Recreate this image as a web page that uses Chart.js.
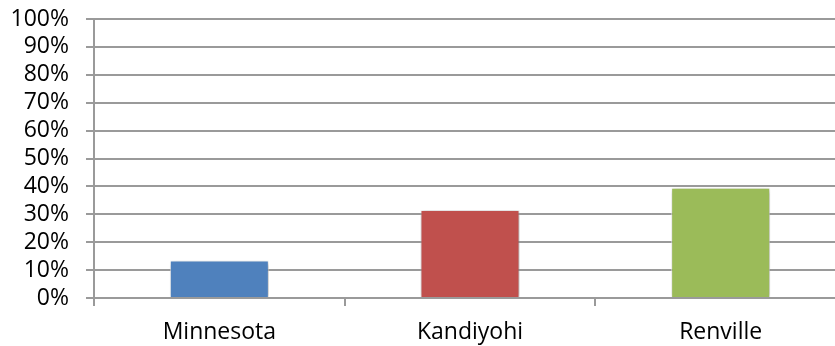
<!DOCTYPE html>
<html>
<head>
<meta charset="utf-8">
<script src="https://cdn.jsdelivr.net/npm/chart.js@4"></script>
<style>
  html, body { margin: 0; padding: 0; background: #fff; overflow: hidden; }
  #wrap { width: 835px; height: 346px; overflow: hidden; }
  #grafico { display: block; }
</style>
</head>
<body>
<div id="wrap"><canvas id="grafico" width="846" height="346"></canvas></div>
<script>
const condados = ['Minnesota', 'Kandiyohi', 'Renville'];
const porcentajes = [13.4, 31.5, 39.5];
const colores = ['#4F81BD', '#C0504D', '#9BBB59'];
const ticksY = [0, 10, 20, 30, 40, 50, 60, 70, 80, 90, 100];

const colorRejilla = '#9a9a9a';
const fuente = { family: '"Open Sans", sans-serif', size: 23 };

// sombra suave alrededor de las barras
const sombraBarras = {
    id: 'sombraBarras',
    beforeDatasetsDraw(chart) {
        const ctx = chart.ctx;
        ctx.save();
        ctx.shadowColor = 'rgba(0, 0, 0, 0.35)';
        ctx.shadowBlur = 5;
        ctx.shadowOffsetX = 1;
        ctx.shadowOffsetY = 1;
    },
    afterDatasetsDraw(chart) {
        chart.ctx.restore();
    }
};

const ctx = document.getElementById('grafico').getContext('2d');
new Chart(ctx, {
    type: 'bar',
    data: {
        labels: condados,
        datasets: [{
            data: porcentajes,
            backgroundColor: colores,
            borderColor: 'rgba(255, 255, 255, 0.7)',
            borderWidth: 1,
            barPercentage: 0.395,
            categoryPercentage: 1
        }]
    },
    plugins: [sombraBarras],
    options: {
        responsive: false,
        animation: false,
        layout: { padding: { top: 19, left: 0, right: 0, bottom: 0 } },
        plugins: {
            legend: { display: false },
            tooltip: { enabled: false }
        },
        scales: {
            x: {
                grid: {
                    drawOnChartArea: false,
                    drawTicks: true,
                    tickLength: 8,
                    color: colorRejilla,
                    lineWidth: 2
                },
                border: { color: colorRejilla, width: 2 },
                ticks: { color: '#000', font: fuente, padding: 13, maxRotation: 0 },
                afterFit(escala) { escala.height = 48; }
            },
            y: {
                min: 0,
                max: 100,
                afterBuildTicks(escala) {
                    escala.ticks = ticksY.map(v => ({ value: v }));
                },
                grid: {
                    color: colorRejilla,
                    lineWidth: 2,
                    tickLength: 8
                },
                border: { color: colorRejilla, width: 2 },
                ticks: {
                    color: '#000',
                    font: fuente,
                    padding: 17,
                    autoSkip: false,
                    callback: v => v + '%'
                },
                afterFit(escala) {
                    escala.width = 94;
                    escala.paddingTop = 0;
                    escala.paddingBottom = 0;
                }
            }
        }
    }
});
</script>
</body>
</html>
